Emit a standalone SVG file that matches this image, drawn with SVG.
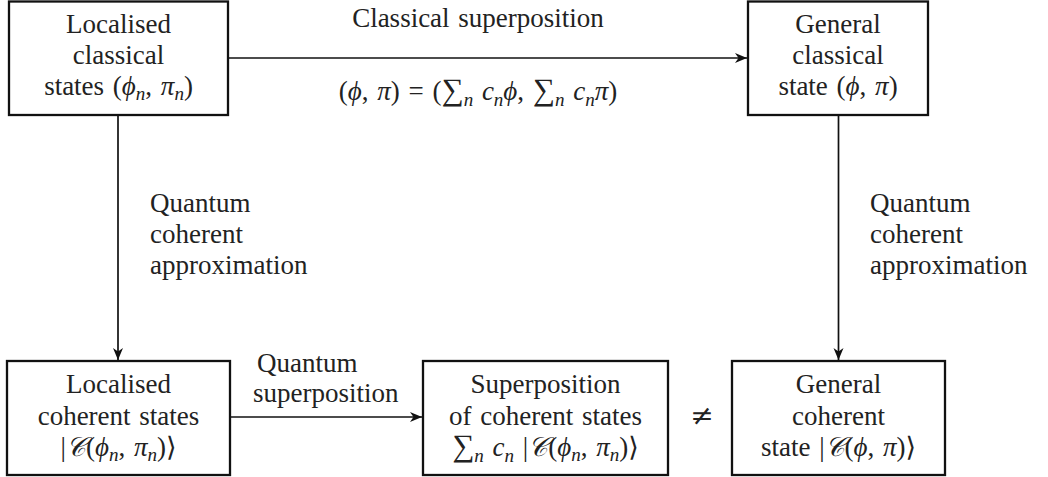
<svg xmlns="http://www.w3.org/2000/svg" width="1048" height="477" viewBox="0 0 1048 477">
<style>
text{font-family:"Liberation Serif","DejaVu Serif",serif;font-size:27px;fill:#222;word-spacing:2px;}
.c{text-anchor:middle;}
.i{font-style:italic;}
.s{font-size:19px;font-style:italic;}
.sum{font-size:31px;}
.box{fill:#fff;stroke:#111;stroke-width:2.3;}
.ln{fill:none;stroke:#111;stroke-width:1.7;marker-end:url(#ah);}
</style>
<defs>
<marker id="ah" viewBox="-13 -6 14 12" refX="0" refY="0" markerWidth="14" markerHeight="12" markerUnits="userSpaceOnUse" orient="auto">
<path d="M0,0 L-12,-5 L-8.5,0 L-12,5 Z" fill="#111"/>
</marker>
</defs>
<g id="connectors">
<line class="ln" x1="229" y1="58" x2="747" y2="58"/>
<line class="ln" x1="118" y1="116" x2="118" y2="360"/>
<line class="ln" x1="838.5" y1="116" x2="838.5" y2="360"/>
<line class="ln" x1="231" y1="417" x2="422" y2="417"/>
<text class="c" x="478" y="27">Classical superposition</text>
<text class="c" x="478" y="100">(<tspan class="i">ϕ</tspan>, <tspan class="i">π</tspan>) = (<tspan class="sum">∑</tspan><tspan class="s" dy="6">n</tspan><tspan class="i" dy="-6"> c</tspan><tspan class="s" dy="6">n</tspan><tspan class="i" dy="-6">ϕ</tspan>, <tspan class="sum">∑</tspan><tspan class="s" dy="6">n</tspan><tspan class="i" dy="-6"> c</tspan><tspan class="s" dy="6">n</tspan><tspan class="i" dy="-6">π</tspan>)</text>
<text x="150" y="212">Quantum</text>
<text x="150" y="243">coherent</text>
<text x="150" y="274">approximation</text>
<text x="870" y="212">Quantum</text>
<text x="870" y="243">coherent</text>
<text x="870" y="274">approximation</text>
<text x="257" y="372">Quantum</text>
<text x="253" y="402">superposition</text>
<text class="c" x="702" y="425" style="font-family:'DejaVu Serif',serif;font-size:28px">≠</text>
</g>
<g id="n1">
<rect class="box" x="9" y="1.5" width="219" height="113.5"/>
<text class="c" x="118.5" y="33">Localised</text>
<text class="c" x="118.5" y="64">classical</text>
<text class="c" x="118.5" y="95">states (<tspan class="i">ϕ</tspan><tspan class="s" dy="5">n</tspan><tspan dy="-5">, </tspan><tspan class="i">π</tspan><tspan class="s" dy="5">n</tspan><tspan dy="-5">)</tspan></text>
</g>
<g id="n2">
<rect class="box" x="748" y="1.5" width="180" height="113.5"/>
<text class="c" x="838" y="33">General</text>
<text class="c" x="838" y="64">classical</text>
<text class="c" x="838" y="95">state (<tspan class="i">ϕ</tspan>, <tspan class="i">π</tspan>)</text>
</g>
<g id="n3">
<rect class="box" x="7" y="361" width="223" height="114"/>
<text class="c" x="118.5" y="393">Localised</text>
<text class="c" x="118.5" y="425">coherent states</text>
<text class="c" x="118.5" y="456">|<tspan class="i">𝒞</tspan>(<tspan class="i">ϕ</tspan><tspan class="s" dy="5">n</tspan><tspan dy="-5">, </tspan><tspan class="i">π</tspan><tspan class="s" dy="5">n</tspan><tspan dy="-5">)⟩</tspan></text>
</g>
<g id="n4">
<rect class="box" x="423" y="361" width="245" height="114"/>
<text class="c" x="545.5" y="393">Superposition</text>
<text class="c" x="545.5" y="425">of coherent states</text>
<text class="c" x="545.5" y="456"><tspan class="sum">∑</tspan><tspan class="s" dy="6">n</tspan><tspan class="i" dy="-6"> c</tspan><tspan class="s" dy="6">n</tspan><tspan dy="-6"> |</tspan><tspan class="i">𝒞</tspan>(<tspan class="i">ϕ</tspan><tspan class="s" dy="5">n</tspan><tspan dy="-5">, </tspan><tspan class="i">π</tspan><tspan class="s" dy="5">n</tspan><tspan dy="-5">)⟩</tspan></text>
</g>
<g id="n5">
<rect class="box" x="732" y="361" width="213" height="114"/>
<text class="c" x="838.5" y="393">General</text>
<text class="c" x="838.5" y="425">coherent</text>
<text class="c" x="838.5" y="456">state |<tspan class="i">𝒞</tspan>(<tspan class="i">ϕ</tspan>, <tspan class="i">π</tspan>)⟩</text>
</g>
</svg>
